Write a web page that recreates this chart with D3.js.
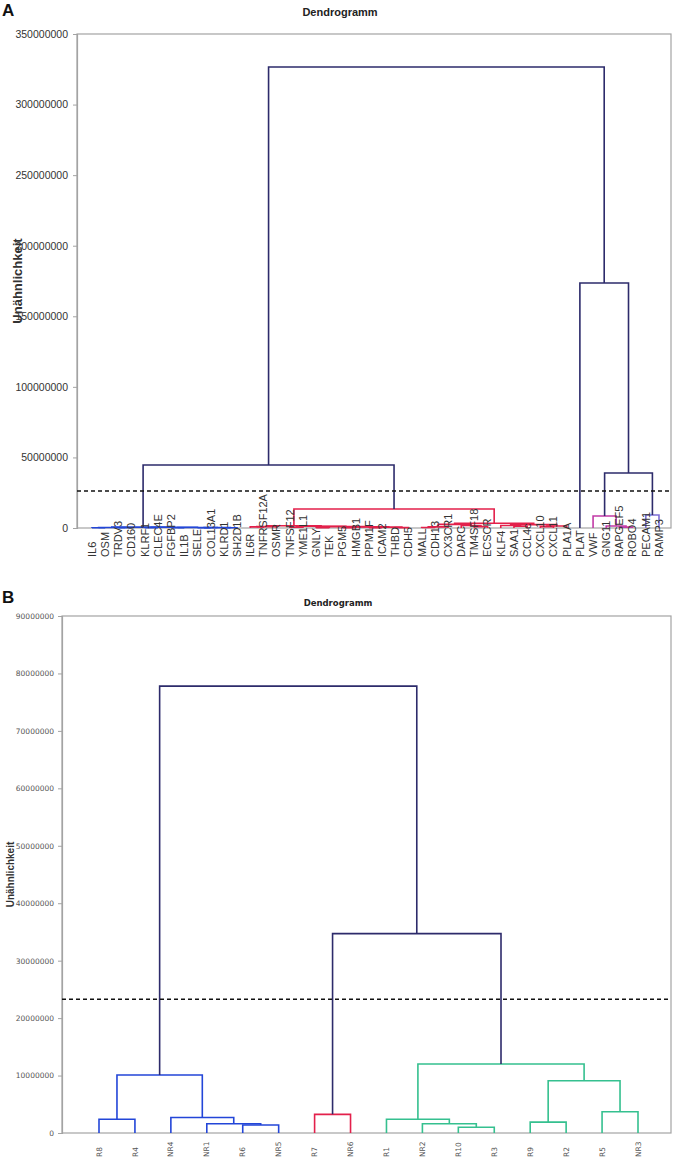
<!DOCTYPE html>
<html>
<head>
<meta charset="utf-8">
<script src="https://cdn.jsdelivr.net/npm/d3@7"></script>
<style>
  html, body { margin: 0; padding: 0; background: #fff; }
  svg { display: block; }
</style>
</head>
<body>
<svg id="chart" width="675" height="1162"></svg>
<script>
// ---------------- DATA ----------------
// Panel A leaves (left to right)
const leavesA = ["IL6","OSM","TRDV3","CD160","KLRF1","CLEC4E","FGFBP2","IL1B","SELE","COL13A1","KLRD1","SH2D1B",
  "IL6R","TNFRSF12A","OSMR","TNFSF12","YME1L1","GNLY","TEK","PGM5","HMGB1","PPM1F","ICAM2","THBD","CDH5","MALL",
  "CDH13","CX3CR1","DARC","TM4SF18","ECSCR","KLF4","SAA1","CCL4c","CXCL10","CXCL11","PLA1A","PLAT","VWF","GNG11",
  "RAPGEF5","ROBO4","PECAM1","RAMP3"];
// Panel A merges: [node, left, right, dissimilarity, colour key]
const mergesA = [
  ["b1","IL6","OSM",0.2e6,"blue"],
  ["b2","TRDV3","CD160",0.2e6,"blue"],
  ["b3","b1","b2",0.4e6,"blue"],
  ["b4","KLRF1","CLEC4E",0.2e6,"blue"],
  ["b5","FGFBP2","IL1B",0.2e6,"blue"],
  ["b6","SELE","COL13A1",0.2e6,"blue"],
  ["b7","KLRD1","SH2D1B",0.2e6,"blue"],
  ["b8","b6","b7",0.3e6,"blue"],
  ["b9","b5","b8",0.4e6,"blue"],
  ["b10","b4","b9",0.5e6,"blue"],
  ["b11","b3","b10",0.6e6,"blue"],
  ["r1","IL6R","TNFRSF12A",0.8e6,"red"],
  ["r2","r1","OSMR",1.0e6,"red"],
  ["r3","TNFSF12","YME1L1",0.5e6,"red"],
  ["r4","GNLY","TEK",0.3e6,"red"],
  ["r5","PGM5","HMGB1",0.3e6,"red"],
  ["r6","PPM1F","ICAM2",0.3e6,"red"],
  ["r7","THBD","CDH5",0.3e6,"red"],
  ["r8","r6","r7",0.6e6,"red"],
  ["r9","r5","r8",0.8e6,"red"],
  ["r10","r4","r9",1.0e6,"red"],
  ["r11","r3","r10",1.2e6,"red"],
  ["r12","r2","r11",1.6e6,"red"],
  ["r13","MALL","CDH13",0.4e6,"red"],
  ["r14","r13","CX3CR1",0.8e6,"red"],
  ["r15","TM4SF18","ECSCR",1.0e6,"red"],
  ["r16","DARC","r15",1.8e6,"red"],
  ["r17","r14","r16",2.6e6,"red"],
  ["r18","SAA1","CCL4c",1.2e6,"red"],
  ["r19","KLF4","r18",1.8e6,"red"],
  ["r20","CXCL10","CXCL11",1.0e6,"red"],
  ["r21","r20","PLA1A",1.4e6,"red"],
  ["r22","r19","r21",2.4e6,"red"],
  ["r23","r17","r22",3.4e6,"red"],
  ["r24","r12","r23",13.5e6,"red"],
  ["m1","RAPGEF5","ROBO4",0.6e6,"magenta"],
  ["m2","GNG11","m1",1.4e6,"magenta"],
  ["m3","VWF","m2",8.5e6,"magenta"],
  ["p1","PECAM1","RAMP3",9.2e6,"lilac"],
  ["n1","m3","p1",39e6,"navy"],
  ["n2","PLAT","n1",173.6e6,"navy"],
  ["n3","b11","r24",44.6e6,"navy"],
  ["n4","n3","n2",326.6e6,"navy"]
];
const ticksA = [0,50000000,100000000,150000000,200000000,250000000,300000000,350000000];
const cutA = 26.2e6;

// Panel B
const leavesB = ["R8","R4","NR4","NR1","R6","NR5","R7","NR6","R1","NR2","R10","R3","R9","R2","R5","NR3"];
const mergesB = [
  ["c1","R8","R4",2.4e6,"blue"],
  ["c2","R6","NR5",1.4e6,"blue"],
  ["c3","NR1","c2",1.6e6,"blue"],
  ["c4","NR4","c3",2.7e6,"blue"],
  ["c5","c1","c4",10.1e6,"blue"],
  ["c6","R7","NR6",3.25e6,"red"],
  ["c7","R10","R3",1.0e6,"green"],
  ["c8","NR2","c7",1.6e6,"green"],
  ["c9","R1","c8",2.4e6,"green"],
  ["c10","R9","R2",1.9e6,"green"],
  ["c11","R5","NR3",3.7e6,"green"],
  ["c12","c10","c11",9.1e6,"green"],
  ["c13","c9","c12",12.0e6,"green"],
  ["c14","c6","c13",34.7e6,"navy"],
  ["c15","c5","c14",77.8e6,"navy"]
];
const ticksB = [0,10000000,20000000,30000000,40000000,50000000,60000000,70000000,80000000,90000000];
const cutB = 23.3e6;

const colours = { navy:"#2d2b6b", blue:"#2346d8", red:"#e3204b", magenta:"#c23aa6", lilac:"#7c6fd6", green:"#35c08f" };

// ---------------- DRAW ----------------
const svg = d3.select("#chart");

function panel(cfg) {
  const g = svg.append("g");
  const y = d3.scaleLinear().domain([0, cfg.ymax]).range([cfg.bottom, cfg.top]);
  const x = d3.scalePoint().domain(cfg.leaves).range([cfg.x0, cfg.x1]);

  // frame
  g.append("rect").attr("x", cfg.left).attr("y", cfg.top)
    .attr("width", cfg.right - cfg.left).attr("height", cfg.bottom - cfg.top)
    .attr("fill", "none").attr("stroke", "#a3a3a3").attr("stroke-width", 1.2);

  // y axis
  const ax = g.append("g").attr("transform", `translate(${cfg.left},0)`)
    .call(d3.axisLeft(y).tickValues(cfg.ticks).tickSize(4).tickPadding(cfg.tickPad).tickFormat(d3.format("d")));
  ax.select(".domain").attr("stroke", "#a3a3a3").attr("stroke-width", 1.2);
  ax.selectAll(".tick line").attr("stroke", "#a3a3a3");
  ax.selectAll(".tick text").attr("font-family", cfg.tickFont).attr("font-size", cfg.tickSize).attr("fill", cfg.tickFill);

  // dendrogram
  const pos = {};
  cfg.leaves.forEach(l => pos[l] = { x: x(l), h: 0 });
  cfg.merges.forEach(([id, a, b, h, c]) => {
    const A = pos[a], B = pos[b];
    pos[id] = { x: (A.x + B.x) / 2, h: h };
    g.append("path")
      .attr("d", `M${A.x},${y(A.h)}V${y(h)}H${B.x}V${y(B.h)}`)
      .attr("fill", "none").attr("stroke", colours[c]).attr("stroke-width", cfg.lw);
  });

  // cut line
  g.append("line").attr("x1", cfg.left).attr("x2", cfg.right)
    .attr("y1", y(cfg.cut)).attr("y2", y(cfg.cut))
    .attr("stroke", "#111").attr("stroke-width", 1.5).attr("stroke-dasharray", "4,3");

  // leaf labels
  g.selectAll("text.leaf").data(cfg.leaves).join("text").attr("class", "leaf")
    .attr("transform", d => `translate(${x(d)},${cfg.labelY}) rotate(-90)`)
    .attr("dy", "0.35em").attr("text-anchor", "start")
    .attr("font-family", cfg.labelFont).attr("font-size", cfg.labelSize).attr("fill", cfg.labelFill)
    .text(d => d);

  // title
  g.append("text").attr("x", cfg.titleX).attr("y", cfg.titleY).attr("text-anchor", "middle")
    .attr("font-family", cfg.titleFont).attr("font-weight", "bold").attr("font-size", cfg.titleSize).attr("fill", "#222")
    .text("Dendrogramm");
  // y label
  g.append("text").attr("transform", `translate(${cfg.ylabX},${(cfg.top + cfg.bottom) / 2 + cfg.ylabDy}) rotate(-90)`)
    .attr("text-anchor", "middle")
    .attr("font-family", "Liberation Sans, Arial, sans-serif").attr("font-weight", "bold").attr("font-size", cfg.ylabSize).attr("fill", "#333")
    .text("Unähnlichkeit");
  // panel letter
  g.append("text").attr("x", 2).attr("y", cfg.letterY)
    .attr("font-family", "Liberation Sans, Arial, sans-serif").attr("font-weight", "bold").attr("font-size", 17).attr("fill", "#111")
    .text(cfg.letter);
}

panel({
  leaves: leavesA, merges: mergesA, ticks: ticksA, ymax: 350e6, cut: cutA,
  left: 77, right: 671, top: 34, bottom: 528, x0: 92, x1: 659,
  tickFont: "Liberation Sans, Arial, sans-serif", tickSize: 10.5, tickPad: 5, tickFill: "#333",
  labelFont: "Liberation Sans, Arial, sans-serif", labelSize: 11, labelY: 557, lw: 1.6, labelFill: "#333",
  titleX: 340, titleY: 16, titleFont: "Liberation Sans, Arial, sans-serif", titleSize: 11,
  ylabX: 22, ylabDy: 0, ylabSize: 13, letter: "A", letterY: 16
});

panel({
  leaves: leavesB, merges: mergesB, ticks: ticksB, ymax: 90e6, cut: cutB,
  left: 62, right: 671, top: 616, bottom: 1133, x0: 99, x1: 638,
  tickFont: "DejaVu Sans, Verdana, sans-serif", tickSize: 7.5, tickPad: 4, tickFill: "#555",
  labelFont: "DejaVu Sans, Verdana, sans-serif", labelSize: 7.5, labelY: 1157, lw: 1.6, labelFill: "#555",
  titleX: 338, titleY: 606, titleFont: "DejaVu Sans, Verdana, sans-serif", titleSize: 8.5,
  ylabX: 14, ylabDy: 0, ylabSize: 10, letter: "B", letterY: 603
});
</script>
</body>
</html>
